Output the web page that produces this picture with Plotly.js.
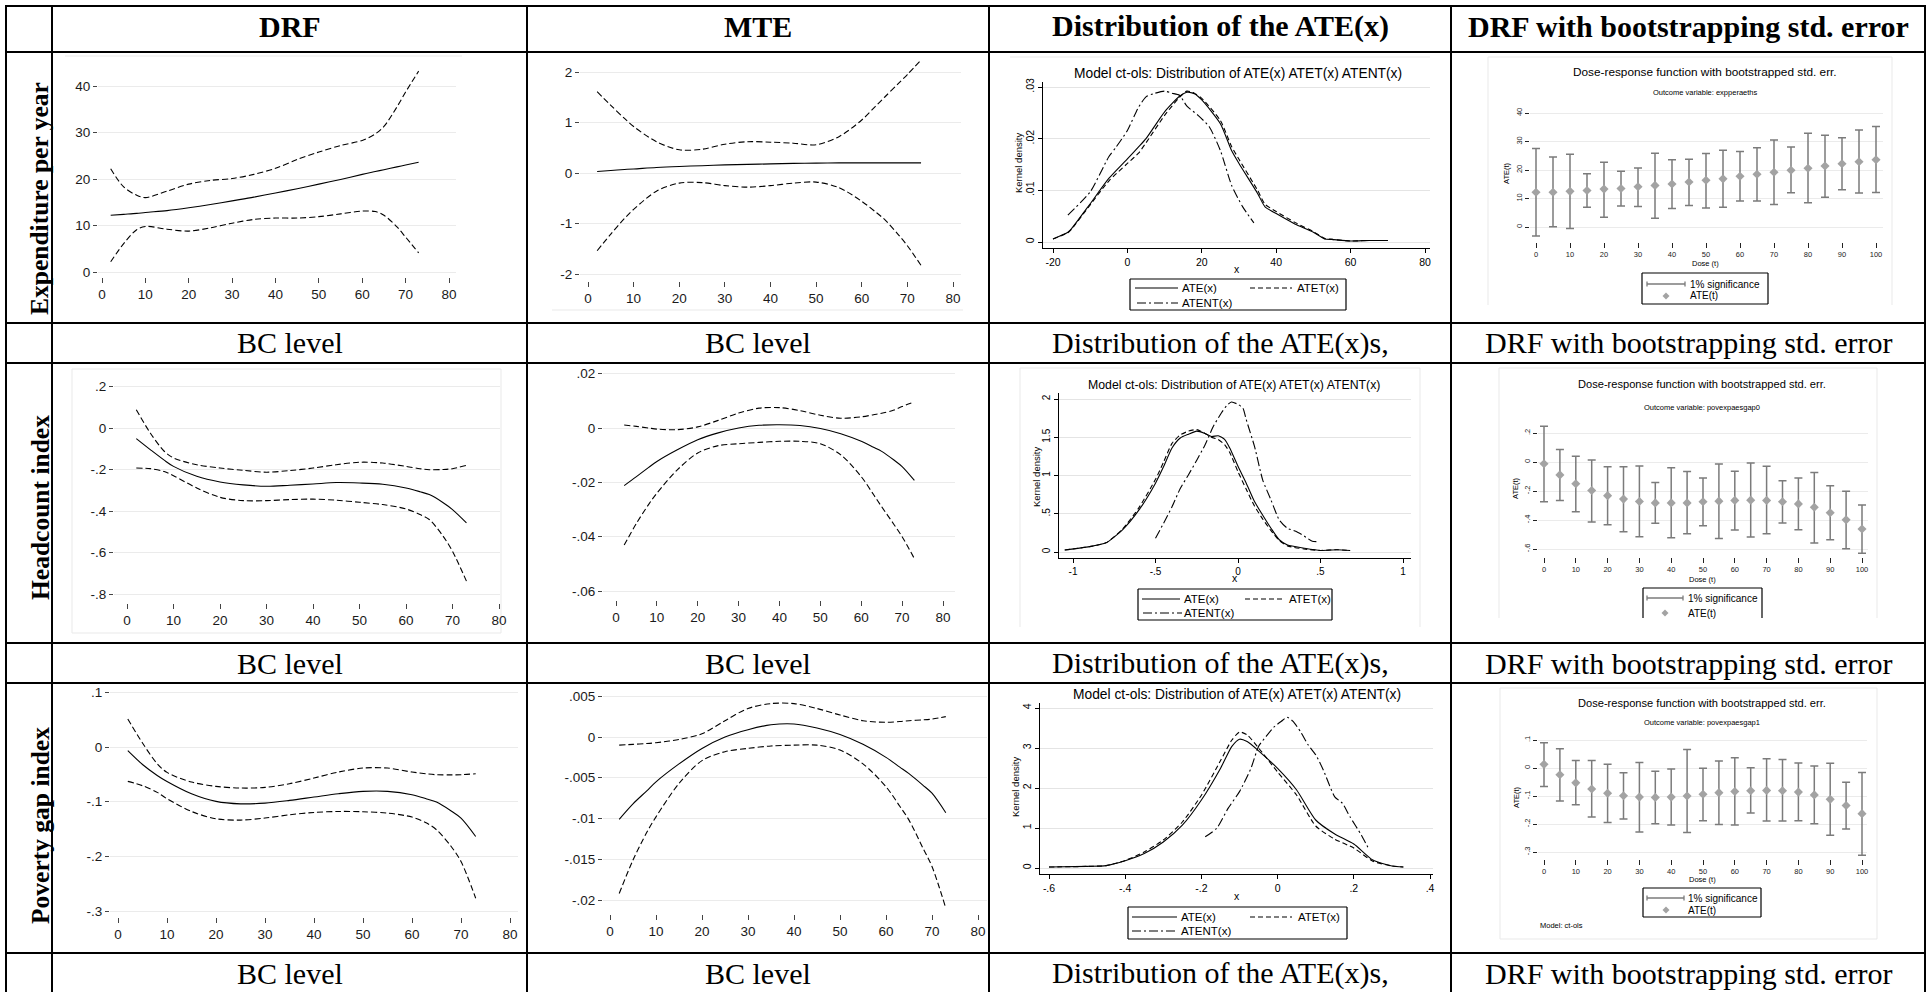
<!DOCTYPE html>
<html><head><meta charset="utf-8">
<script src="https://cdn.plot.ly/plotly-3.0.1.min.js"></script>
<style>html,body{margin:0;padding:0;background:#fff;overflow:hidden}#chart{width:1927px;height:992px}</style>
</head><body><div id="chart"></div>
<script>
// ---------------- text ----------------
const columnHeaders = ['DRF','MTE','Distribution of the ATE(x)','DRF with bootstrapping std. error'];
const rowLabels = ['Expenditure per year','Headcount index','Poverty gap index'];
const captions = ['BC level','BC level','Distribution of the ATE(x)s,','DRF with bootstrapping std. error'];
const kdTitle = 'Model ct-ols: Distribution of ATE(x) ATET(x) ATENT(x)';
const kdLegend = ['ATE(x)','ATET(x)','ATENT(x)'];
const bsTitle = 'Dose-response function with bootstrapped std. err.';
const bsOutcomes = ['Outcome variable: expperaeths','Outcome variable: povexpaesgap0','Outcome variable: povexpaesgap1'];
const bsLegend = ['1% significance','ATE(t)'];
const bsModel = 'Model: ct-ols';

// ---------------- DRF / MTE curves (BC level) ----------------
const bcX = [2,5,8,10,15,20,25,30,35,40,45,50,55,60,63,65,68,70,73];
const expDrfMid = [12.2,12.4,12.6,12.8,13.2,13.8,14.5,15.3,16.1,17.0,17.9,18.9,19.9,21.0,21.6,22.0,22.6,23.0,23.6];
const expDrfHi  = [22.2,18.3,16.5,16.0,17.4,18.9,19.7,20.1,21.0,22.3,24.2,25.8,27.2,28.3,29.7,31.3,35.5,38.7,43.2];
const expDrfLo  = [2.2,6.1,9.1,9.8,9.2,8.8,9.5,10.5,11.3,11.6,11.6,11.9,12.5,13.1,13.0,12.2,9.7,7.5,4.1];
const expMteMid = [0.03,0.05,0.07,0.08,0.11,0.13,0.145,0.16,0.17,0.18,0.19,0.195,0.2,0.2,0.2,0.2,0.2,0.2,0.2];
const expMteHi  = [1.61,1.34,1.08,0.92,0.62,0.46,0.47,0.57,0.62,0.61,0.59,0.56,0.72,1.05,1.32,1.50,1.77,1.95,2.24];
const expMteLo  = [-1.54,-1.21,-0.90,-0.72,-0.36,-0.20,-0.19,-0.25,-0.28,-0.25,-0.20,-0.18,-0.29,-0.56,-0.77,-0.92,-1.22,-1.44,-1.83];
const hcDrfMid = [-0.051,-0.104,-0.155,-0.185,-0.233,-0.26,-0.274,-0.281,-0.276,-0.27,-0.263,-0.265,-0.271,-0.289,-0.307,-0.321,-0.36,-0.393,-0.457];
const hcDrfHi  = [0.088,-0.024,-0.112,-0.144,-0.177,-0.193,-0.204,-0.213,-0.205,-0.193,-0.177,-0.165,-0.169,-0.185,-0.196,-0.201,-0.2,-0.196,-0.18];
const hcDrfLo  = [-0.193,-0.196,-0.21,-0.23,-0.289,-0.334,-0.35,-0.35,-0.345,-0.343,-0.348,-0.358,-0.369,-0.39,-0.417,-0.441,-0.522,-0.594,-0.738];
const hcMteMid = [-0.0212,-0.0179,-0.0145,-0.0123,-0.008,-0.0043,-0.0018,0,0.001,0.0012,0.0009,-0.0002,-0.0021,-0.0049,-0.0071,-0.0086,-0.0118,-0.0142,-0.0193];
const hcMteHi  = [0.0011,0.0006,0.0,-0.0004,-0.0006,0.0004,0.0028,0.0055,0.0073,0.0075,0.0064,0.0047,0.0036,0.0041,0.0049,0.0054,0.0066,0.0079,0.0096];
const hcMteLo  = [-0.0431,-0.0351,-0.0281,-0.024,-0.0154,-0.0092,-0.0065,-0.0058,-0.0053,-0.0049,-0.0049,-0.0058,-0.0099,-0.0179,-0.0245,-0.029,-0.0355,-0.04,-0.0481];
const pgDrfMid = [-0.0067,-0.032,-0.052,-0.063,-0.0855,-0.0995,-0.104,-0.1026,-0.0977,-0.0916,-0.0855,-0.0812,-0.0812,-0.0873,-0.095,-0.1008,-0.117,-0.13,-0.1637];
const pgDrfHi  = [0.0513,0.0073,-0.0305,-0.0464,-0.0641,-0.072,-0.0751,-0.0739,-0.0672,-0.0568,-0.0458,-0.0385,-0.0385,-0.0458,-0.049,-0.0507,-0.051,-0.0507,-0.0489];
const pgDrfLo  = [-0.0629,-0.0708,-0.083,-0.0947,-0.1179,-0.1313,-0.1337,-0.13,-0.124,-0.1197,-0.1179,-0.1185,-0.1209,-0.1282,-0.1392,-0.1515,-0.182,-0.2095,-0.2766];
const pgMteMid = [-0.0101,-0.0082,-0.0066,-0.0055,-0.0033,-0.0014,0,0.0009,0.0015,0.0016,0.0011,0.0003,-0.0009,-0.0025,-0.0037,-0.0045,-0.0059,-0.0069,-0.0093];
const pgMteHi  = [-0.001,-0.0009,-0.0008,-0.0007,-0.0003,0.0004,0.002,0.0035,0.0041,0.0041,0.0035,0.0027,0.002,0.0018,0.0019,0.002,0.0021,0.0022,0.0025];
const pgMteLo  = [-0.0192,-0.0151,-0.0117,-0.0098,-0.0057,-0.0029,-0.0018,-0.0014,-0.0011,-0.001,-0.001,-0.0016,-0.0033,-0.0061,-0.0085,-0.0102,-0.0136,-0.0159,-0.021];

// ---------------- kernel densities ----------------
const kd1AteX  = [-20,-16,-15,-10,-5,0,3,5,10,14,16,18,20,25,28,30,35,37,40,45,50,53,55,60,65,70];
const kd1AteY  = [0.0006,0.0019,0.0026,0.0074,0.0123,0.0161,0.0184,0.02,0.0252,0.0282,0.029,0.0287,0.0275,0.0229,0.0177,0.0152,0.0094,0.0068,0.0055,0.0035,0.0019,0.0006,0.0005,0.0002,0.0003,0.0003];
const kd1AtetY = [0.0006,0.0018,0.0025,0.0072,0.0118,0.0152,0.0172,0.0192,0.0245,0.028,0.0292,0.0288,0.0278,0.0235,0.0185,0.016,0.01,0.0073,0.0059,0.0038,0.002,0.0007,0.0005,0.0002,0.0003,0.0003];
const kd1AtentX = [-16,-10,-5,-3,0,3,5,7,10,12,14,16,19,22,25,28,31,34];
const kd1AtentY = [0.0052,0.0097,0.0165,0.0184,0.0216,0.0261,0.0281,0.0287,0.0292,0.0288,0.0284,0.0263,0.0245,0.0223,0.0177,0.011,0.0068,0.0037];

const kd2AteX  = [-1.05,-0.9,-0.8,-0.7,-0.6,-0.5,-0.45,-0.4,-0.35,-0.3,-0.25,-0.2,-0.16,-0.12,-0.08,-0.05,0,0.05,0.1,0.15,0.2,0.25,0.3,0.4,0.5,0.6,0.68];
const kd2AteY  = [0.026,0.07,0.12,0.29,0.55,0.9,1.12,1.36,1.49,1.54,1.58,1.55,1.51,1.52,1.47,1.36,1.12,0.9,0.66,0.48,0.31,0.16,0.09,0.05,0.02,0.03,0.02];
const kd2AtetY = [0.026,0.07,0.12,0.3,0.58,0.95,1.18,1.42,1.53,1.58,1.6,1.55,1.5,1.47,1.4,1.3,1.05,0.82,0.6,0.43,0.28,0.15,0.08,0.04,0.02,0.03,0.02];
const kd2AtentX = [-0.5,-0.45,-0.4,-0.35,-0.3,-0.25,-0.2,-0.15,-0.1,-0.07,-0.04,0,0.03,0.05,0.1,0.15,0.2,0.25,0.3,0.35,0.4,0.45,0.49];
const kd2AtentY = [0.18,0.38,0.59,0.83,1.01,1.2,1.4,1.64,1.82,1.91,1.96,1.93,1.88,1.73,1.38,0.94,0.68,0.42,0.31,0.27,0.21,0.14,0.135];

const kd3AteX  = [-0.6,-0.5,-0.45,-0.4,-0.35,-0.3,-0.25,-0.2,-0.15,-0.12,-0.1,-0.08,-0.05,0,0.05,0.1,0.15,0.2,0.25,0.3,0.33];
const kd3AteY  = [0.025,0.04,0.06,0.18,0.36,0.65,1.07,1.7,2.49,3.04,3.22,3.16,2.93,2.49,1.95,1.2,0.85,0.6,0.2,0.05,0.025];
const kd3AtetY = [0.025,0.04,0.06,0.19,0.4,0.7,1.15,1.82,2.68,3.2,3.4,3.33,3.0,2.4,1.82,1.05,0.72,0.5,0.17,0.05,0.025];
const kd3AtentX = [-0.19,-0.16,-0.13,-0.1,-0.07,-0.05,-0.03,-0.01,0.01,0.025,0.04,0.06,0.08,0.1,0.12,0.15,0.17,0.19,0.22,0.24];
const kd3AtentY = [0.78,0.99,1.49,1.91,2.49,3.04,3.29,3.52,3.67,3.77,3.67,3.41,3.08,2.83,2.45,1.78,1.62,1.28,0.82,0.46];

// ---------------- bootstrapped DRF ----------------
const dose = [0,5,10,15,20,25,30,35,40,45,50,55,60,65,70,75,80,85,90,95,100];
const bs1Mid = [12.2,12.2,12.5,12.8,13.3,13.5,14.1,14.6,15.1,15.8,16.4,16.9,17.8,18.5,19.2,19.9,20.6,21.4,22.2,22.9,23.6];
const bs1Lo  = [-3.2,0.1,-0.5,6.9,3.4,7.4,7.2,3.1,6.5,7.5,6.7,6.9,9.1,9.1,7.9,12.0,8.5,10.4,13.1,11.9,12.1];
const bs1Hi  = [27.5,24.6,25.5,18.7,22.7,19.6,20.7,25.9,23.6,23.8,25.8,26.9,26.5,27.8,30.5,28.1,32.9,32.2,31.3,34.0,35.3];
const bs2Mid = [-0.012,-0.089,-0.15,-0.197,-0.232,-0.256,-0.272,-0.282,-0.282,-0.282,-0.274,-0.27,-0.265,-0.263,-0.265,-0.274,-0.289,-0.312,-0.35,-0.399,-0.462];
const bs2Lo  = [-0.274,-0.265,-0.343,-0.413,-0.432,-0.481,-0.516,-0.422,-0.523,-0.495,-0.439,-0.528,-0.469,-0.518,-0.495,-0.42,-0.467,-0.558,-0.537,-0.598,-0.629];
const bs2Hi  = [0.246,0.087,0.04,0.014,-0.033,-0.033,-0.028,-0.141,-0.04,-0.066,-0.11,-0.014,-0.063,-0.007,-0.03,-0.129,-0.11,-0.073,-0.164,-0.202,-0.296];
const bs3Mid = [0.013,-0.024,-0.053,-0.075,-0.09,-0.099,-0.104,-0.105,-0.104,-0.1,-0.094,-0.088,-0.084,-0.081,-0.08,-0.081,-0.086,-0.096,-0.112,-0.134,-0.163];
const bs3Lo  = [-0.066,-0.118,-0.131,-0.175,-0.195,-0.182,-0.229,-0.199,-0.204,-0.23,-0.188,-0.202,-0.204,-0.161,-0.189,-0.189,-0.188,-0.199,-0.24,-0.218,-0.312];
const bs3Hi  = [0.09,0.069,0.027,0.027,0.013,-0.017,0.02,-0.012,-0.004,0.066,-0.001,0.025,0.037,0.001,0.033,0.03,0.018,0.007,0.017,-0.051,-0.016];

// ---------------- tick labels ----------------
const bcTicks = [0,10,20,30,40,50,60,70,80];
const expDrfTicks = [0,10,20,30,40];
const expMteTicks = [-2,-1,0,1,2];
const hcDrfTicks = [-0.8,-0.6,-0.4,-0.2,0,0.2];
const hcDrfLabels = ['-.8','-.6','-.4','-.2','0','.2'];
const hcMteTicks = [-0.06,-0.04,-0.02,0,0.02];
const hcMteLabels = ['-.06','-.04','-.02','0','.02'];
const pgDrfTicks = [-0.3,-0.2,-0.1,0,0.1];
const pgDrfLabels = ['-.3','-.2','-.1','0','.1'];
const pgMteTicks = [-0.02,-0.015,-0.01,-0.005,0,0.005];
const pgMteLabels = ['-.02','-.015','-.01','-.005','0','.005'];
const kd1XTicks = [-20,0,20,40,60,80];
const kd1YTicks = [0,0.01,0.02,0.03];
const kd1YLabels = ['0','.01','.02','.03'];
const kd2XTicks = [-1,-0.5,0,0.5,1];
const kd2XLabels = ['-1','-.5','0','.5','1'];
const kd2YTicks = [0,0.5,1,1.5,2];
const kd2YLabels = ['0','.5','1','1.5','2'];
const kd3XTicks = [-0.6,-0.4,-0.2,0,0.2,0.4];
const kd3XLabels = ['-.6','-.4','-.2','0','.2','.4'];
const kd3YTicks = [0,1,2,3,4];
const doseTicks = [0,10,20,30,40,50,60,70,80,90,100];
const bs1YTicks = [0,10,20,30,40];
const bs2YTicks = [-0.6,-0.4,-0.2,0,0.2];
const bs2YLabels = ['-.6','-.4','-.2','0','.2'];
const bs3YTicks = [-0.3,-0.2,-0.1,0,0.1];
const bs3YLabels = ['-.3','-.2','-.1','0','.1'];

// ---------------- helpers ----------------
const W = 1927, H = 992;
const SANS = '"Liberation Sans", Arial, Helvetica, sans-serif';
const SERIF = '"Liberation Serif", "Times New Roman", Times, serif';
const px = x => x / W, py = y => 1 - y / H;
const ref = (n, a) => n === 1 ? a : a + n;
const axKey = (n, a) => n === 1 ? a + 'axis' : a + 'axis' + n;
function calib(v1, p1, v2, p2, a, b) { const s = (v2 - v1) / (p2 - p1); return [v1 + (a - p1) * s, v1 + (b - p1) * s]; }
const tk = (v, t) => ({v: v, t: t || v.map(String)});

const layout = {
  width: W, height: H, margin: {l: 0, r: 0, t: 0, b: 0},
  paper_bgcolor: '#ffffff', plot_bgcolor: 'rgba(0,0,0,0)',
  showlegend: false, hovermode: false, shapes: [], annotations: []
};
const traces = [];

function line(x0, y0, x1, y1, color, width, dash, layer) {
  layout.shapes.push({type: 'line', xref: 'paper', yref: 'paper', x0: px(x0), y0: py(y0), x1: px(x1), y1: py(y1),
    line: {color: color, width: width, dash: dash || 'solid'}, layer: layer || 'above'});
}
function txt(x, y, s, size, o) {
  o = o || {};
  layout.annotations.push({xref: 'paper', yref: 'paper', x: px(x), y: py(y), text: s, showarrow: false,
    xanchor: o.xa || 'center', yanchor: 'middle', textangle: o.angle || 0, borderpad: 0,
    font: {family: o.family || SANS, size: size, color: o.color || '#000'}});
}
function diamond(cx, cy, r, color) {
  const p = `M${px(cx - r)},${py(cy)} L${px(cx)},${py(cy - r)} L${px(cx + r)},${py(cy)} L${px(cx)},${py(cy + r)} Z`;
  layout.shapes.push({type: 'path', xref: 'paper', yref: 'paper', path: p, fillcolor: color, line: {width: 0}});
}
function faint(l, t, r, b, sides) {
  const c = '#e9e9e9';
  if (sides.includes('t')) line(l, t, r, t, c, 1, 'solid', 'below');
  if (sides.includes('b')) line(l, b, r, b, c, 1, 'solid', 'below');
  if (sides.includes('l')) line(l, t, l, b, c, 1, 'solid', 'below');
  if (sides.includes('r')) line(r, t, r, b, c, 1, 'solid', 'below');
}

function addPanel(n, kind, box, xcal, ycal, xt, yt, fs) {
  const xr = calib(xcal[0], xcal[1], xcal[2], xcal[3], box.l, box.r);
  const yr = calib(ycal[0], ycal[1], ycal[2], ycal[3], box.b, box.t);
  const base = {fixedrange: true, zeroline: false, ticks: 'outside', tickwidth: 1, tickmode: 'array', automargin: false};
  const xa = Object.assign({}, base, {domain: [px(box.l), px(box.r)], range: xr, anchor: ref(n, 'y'),
    tickvals: xt.v, ticktext: xt.t, showgrid: false});
  const ya = Object.assign({}, base, {domain: [py(box.b), py(box.t)], range: yr, anchor: ref(n, 'x'),
    tickvals: yt.v, ticktext: yt.t, showgrid: true, gridwidth: 1});
  if (kind === 'A') {
    Object.assign(xa, {showline: false, ticklen: 5, tickcolor: '#444', tickfont: {family: SANS, size: fs, color: '#1a1a1a'}});
    Object.assign(ya, {showline: false, ticklen: 4, tickcolor: '#444', gridcolor: '#ebebeb', tickfont: {family: SANS, size: fs, color: '#1a1a1a'}});
  } else if (kind === 'B') {
    Object.assign(xa, {showline: true, linecolor: '#000', linewidth: 1, ticklen: 4, tickcolor: '#000', tickfont: {family: SANS, size: fs, color: '#000'}});
    Object.assign(ya, {showline: true, linecolor: '#000', linewidth: 1, ticklen: 4, tickcolor: '#000', tickangle: -90, gridcolor: '#e4e4e4', tickfont: {family: SANS, size: fs, color: '#000'}});
  } else {
    Object.assign(xa, {showline: false, ticklen: 5, tickcolor: '#222', tickfont: {family: SANS, size: fs, color: '#222'}});
    Object.assign(ya, {showline: false, ticklen: 4, tickcolor: '#222', tickangle: -90, gridcolor: '#ebebeb', tickfont: {family: SANS, size: fs, color: '#222'}});
  }
  layout[axKey(n, 'x')] = xa;
  layout[axKey(n, 'y')] = ya;
}
function curve(n, x, y, dash, width) {
  traces.push({type: 'scatter', mode: 'lines', x: x, y: y, xaxis: ref(n, 'x'), yaxis: ref(n, 'y'), hoverinfo: 'skip',
    line: {color: '#000', width: width || 1.1, dash: dash || 'solid', shape: 'spline', smoothing: 0.9}});
}
function kdCurve(n, x, y, dash) {
  traces.push({type: 'scatter', mode: 'lines', x: x, y: y, xaxis: ref(n, 'x'), yaxis: ref(n, 'y'), hoverinfo: 'skip',
    line: {color: '#000', width: 1.1, dash: dash || 'solid', shape: 'spline', smoothing: 0.6}});
}
function bsTrace(n, mid, lo, hi) {
  traces.push({type: 'scatter', mode: 'markers', x: dose, y: mid, xaxis: ref(n, 'x'), yaxis: ref(n, 'y'), hoverinfo: 'skip',
    marker: {symbol: 'diamond', size: 7, color: '#a3a3a3'},
    error_y: {type: 'data', symmetric: false, array: hi.map((v, i) => v - mid[i]), arrayminus: mid.map((v, i) => v - lo[i]),
      color: '#7b7b7b', thickness: 1.5, width: 4}});
}
const DASH_A = '6px,3px';
const DASH_B = '5px,3px';
const DASHDOT = '9px,3px,2px,3px';

// ---------------- panels ----------------
// Row 1
addPanel(1, 'A', {l: 98, r: 456, t: 62, b: 277}, [0, 102, 80, 449], [0, 272, 40, 86], tk(bcTicks), tk(expDrfTicks), 13.5);
curve(1, bcX, expDrfMid); curve(1, bcX, expDrfHi, DASH_A); curve(1, bcX, expDrfLo, DASH_A);
addPanel(2, 'A', {l: 580, r: 961, t: 55, b: 281}, [0, 588, 80, 953], [0, 173, 2, 72], tk(bcTicks), tk(expMteTicks), 13.5);
curve(2, bcX, expMteMid); curve(2, bcX, expMteHi, DASH_A); curve(2, bcX, expMteLo, DASH_A);
addPanel(3, 'B', {l: 1043, r: 1430, t: 82, b: 248}, [-20, 1053, 80, 1425], [0, 242, 0.03, 87], tk(kd1XTicks), tk(kd1YTicks, kd1YLabels), 10.5);
kdCurve(3, kd1AteX, kd1AteY); kdCurve(3, kd1AteX, kd1AtetY, DASH_B); kdCurve(3, kd1AtentX, kd1AtentY, DASHDOT);
addPanel(4, 'C', {l: 1530, r: 1883, t: 108, b: 242}, [0, 1536, 100, 1876], [0, 227, 40, 113], tk(doseTicks), tk(bs1YTicks), 7.5);
bsTrace(4, bs1Mid, bs1Lo, bs1Hi);
// Row 2
addPanel(5, 'A', {l: 114, r: 500, t: 380, b: 603}, [0, 127, 80, 499], [0, 428, -0.8, 594], tk(bcTicks), tk(hcDrfTicks, hcDrfLabels), 13.5);
curve(5, bcX, hcDrfMid); curve(5, bcX, hcDrfHi, DASH_A); curve(5, bcX, hcDrfLo, DASH_A);
addPanel(6, 'A', {l: 603, r: 955, t: 370, b: 600}, [0, 616, 80, 943], [0, 428, -0.06, 591], tk(bcTicks), tk(hcMteTicks, hcMteLabels), 13.5);
curve(6, bcX, hcMteMid); curve(6, bcX, hcMteHi, DASH_A); curve(6, bcX, hcMteLo, DASH_A);
addPanel(7, 'B', {l: 1059, r: 1411, t: 393, b: 558}, [-1, 1073, 1, 1403], [0, 552, 2, 399], tk(kd2XTicks, kd2XLabels), tk(kd2YTicks, kd2YLabels), 10);
kdCurve(7, kd2AteX, kd2AteY); kdCurve(7, kd2AteX, kd2AtetY, DASH_B); kdCurve(7, kd2AtentX, kd2AtentY, DASHDOT);
addPanel(8, 'C', {l: 1538, r: 1868, t: 424, b: 557}, [0, 1544, 100, 1862], [0, 462, 0.2, 433], tk(doseTicks), tk(bs2YTicks, bs2YLabels), 7.5);
bsTrace(8, bs2Mid, bs2Lo, bs2Hi);
// Row 3
addPanel(9, 'A', {l: 110, r: 518, t: 688, b: 917}, [0, 118, 80, 510], [0, 747, -0.3, 911], tk(bcTicks), tk(pgDrfTicks, pgDrfLabels), 13.5);
curve(9, bcX, pgDrfMid); curve(9, bcX, pgDrfHi, DASH_A); curve(9, bcX, pgDrfLo, DASH_A);
addPanel(10, 'A', {l: 603, r: 987, t: 692, b: 914}, [0, 610, 80, 978], [0, 737, -0.02, 900], tk(bcTicks), tk(pgMteTicks, pgMteLabels), 13.5);
curve(10, bcX, pgMteMid); curve(10, bcX, pgMteHi, DASH_A); curve(10, bcX, pgMteLo, DASH_A);
addPanel(11, 'B', {l: 1040, r: 1433, t: 703, b: 874}, [-0.6, 1049, 0.4, 1430], [0, 868, 4, 708], tk(kd3XTicks, kd3XLabels), tk(kd3YTicks), 10.5);
kdCurve(11, kd3AteX, kd3AteY); kdCurve(11, kd3AteX, kd3AtetY, DASH_B); kdCurve(11, kd3AtentX, kd3AtentY, DASHDOT);
addPanel(12, 'C', {l: 1538, r: 1867, t: 735, b: 859}, [0, 1544, 100, 1862], [0, 768, 0.1, 740], tk(doseTicks), tk(bs3YTicks, bs3YLabels), 7.5);
bsTrace(12, bs3Mid, bs3Lo, bs3Hi);

// ---------------- faint graph-region borders ----------------
faint(65, 56, 462, 318, 't');
faint(552, 56, 963, 310, 'b');
faint(1010, 57, 1430, 318, 't');
faint(1488, 57, 1892, 305, 'tlr');
faint(72, 369, 501, 633, 'tblr');
faint(1020, 368, 1420, 627, 'tlr');
faint(1499, 368, 1877, 618, 'tlr');
faint(1500, 688, 1877, 939, 'tblr');

// ---------------- kernel-density titles & legends ----------------
const kdSpecs = [
  {title: [1238, 73, 13.8], xt: [1237, 269], yt: [1018, 163], box: [1130, 1346, 279, 310], r1: 288, r2: 303, s: [1135, 1178], t1: 1181, d: [1250, 1292], t2: 1296, dd: [1137, 1178], t3: 1181},
  {title: [1234, 385, 12.3], xt: [1235, 578], yt: [1036, 477], box: [1138, 1332, 589, 620], r1: 599, r2: 613, s: [1142, 1180], t1: 1183, d: [1245, 1283], t2: 1288, dd: [1143, 1182], t3: 1183},
  {title: [1237, 694, 13.8], xt: [1237, 896], yt: [1015, 787], box: [1128, 1347, 907, 939], r1: 917, r2: 931, s: [1132, 1177], t1: 1180, d: [1250, 1292], t2: 1297, dd: [1132, 1177], t3: 1180}
];
kdSpecs.forEach(k => {
  txt(k.title[0], k.title[1], kdTitle, k.title[2]);
  txt(k.xt[0], k.xt[1], 'x', 10.5);
  txt(k.yt[0], k.yt[1], 'Kernel density', 9.5, {angle: -90});
  const [l, r, t, b] = k.box;
  line(l, t, r, t, '#000', 1.2); line(l, b, r, b, '#000', 1.2); line(l, t, l, b, '#000', 1.2); line(r, t, r, b, '#000', 1.2);
  line(k.s[0], k.r1, k.s[1], k.r1, '#000', 1.1);
  line(k.d[0], k.r1, k.d[1], k.r1, '#000', 1.1, DASH_B);
  line(k.dd[0], k.r2, k.dd[1], k.r2, '#000', 1.1, DASHDOT);
  txt(k.t1, k.r1, kdLegend[0], 11.5, {xa: 'left'});
  txt(k.t2, k.r1, kdLegend[1], 11.5, {xa: 'left'});
  txt(k.t3, k.r2, kdLegend[2], 11.5, {xa: 'left'});
});

// ---------------- bootstrap titles & legends ----------------
const bsSpecs = [
  {cx: 1705, ty: 72, ts: 11.8, sy: 92, yt: [1506, 173], xt: 263, box: [1642, 1768, 273, 304], open: false, r1: 284, r2: 296, bar: [1647, 1685], t1: 1689, dm: 1666},
  {cx: 1702, ty: 384, ts: 11.1, sy: 407, yt: [1515, 488], xt: 579, box: [1643, 1762, 588, 618], open: true, r1: 598, r2: 613, bar: [1647, 1683], t1: 1687, dm: 1665},
  {cx: 1702, ty: 703, ts: 11.1, sy: 722, yt: [1516, 797], xt: 879, box: [1643, 1761, 888, 917], open: false, r1: 898, r2: 910, bar: [1647, 1684], t1: 1687, dm: 1666}
];
bsSpecs.forEach((k, i) => {
  txt(k.cx, k.ty, bsTitle, k.ts);
  txt(k.cx, k.sy, bsOutcomes[i], 7.5);
  txt(k.yt[0], k.yt[1], 'ATE(t)', 7.5, {angle: -90});
  txt(k.cx, k.xt, 'Dose (t)', 7.5);
  const [l, r, t, b] = k.box;
  line(l, t, r, t, '#000', 1.2); line(l, t, l, b, '#000', 1.2); line(r, t, r, b, '#000', 1.2);
  if (!k.open) line(l, b, r, b, '#000', 1.2);
  line(k.bar[0], k.r1, k.bar[1], k.r1, '#7b7b7b', 1.3);
  line(k.bar[0], k.r1 - 2.5, k.bar[0], k.r1 + 2.5, '#7b7b7b', 1.3);
  line(k.bar[1], k.r1 - 2.5, k.bar[1], k.r1 + 2.5, '#7b7b7b', 1.3);
  diamond(k.dm, k.r2, 3.5, '#a3a3a3');
  txt(k.t1, k.r1, bsLegend[0], 10, {xa: 'left'});
  txt(k.t1, k.r2, bsLegend[1], 10, {xa: 'left'});
});
txt(1539, 925, bsModel, 7.5, {xa: 'left'});

// ---------------- table ----------------
const colEdges = [6, 52, 527, 989, 1451, 1925];
const rowEdges = [6, 52, 323, 363, 643, 683, 953];
rowEdges.forEach(y => line(5, y, 1926, y, '#000', 2));
colEdges.forEach(x => line(x, 5, x, 992, '#000', 2));
const colCenters = [289.5, 758, 1220, 1688];
columnHeaders.forEach((s, i) => txt(colCenters[i], 26, '<b>' + s + '</b>', 30, {family: SERIF}));
const captionY = [343, 663, 973];
captionY.forEach(y => captions.forEach((s, i) => txt(colCenters[i], y, s, 30, {family: SERIF})));
const rowLabelY = [199, 508, 826];
rowLabels.forEach((s, i) => txt(40, rowLabelY[i], '<b>' + s + '</b>', 25.5, {family: SERIF, angle: -90}));

Plotly.newPlot('chart', traces, layout, {staticPlot: true, displayModeBar: false});
</script></body></html>
